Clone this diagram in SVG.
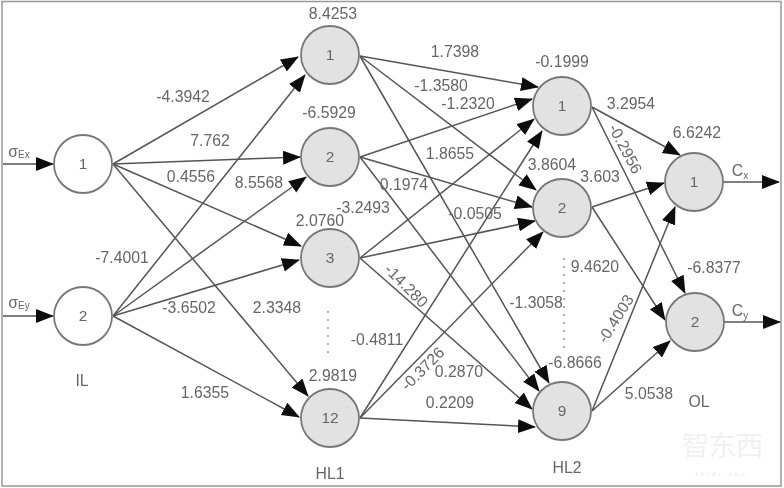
<svg xmlns="http://www.w3.org/2000/svg" width="784" height="488" viewBox="0 0 784 488">
<defs>
<marker id="ah" markerUnits="userSpaceOnUse" markerWidth="20" markerHeight="15" refX="17" refY="7" orient="auto"><path d="M0,0 L18,7 L0,14 Z" fill="#111"/></marker>
<filter id="soft" x="-5%" y="-5%" width="110%" height="110%"><feGaussianBlur stdDeviation="0.5"/></filter>
</defs>
<style>
.c line{stroke:#555;stroke-width:1.5;fill:none;marker-end:url(#ah)}
circle{stroke:#777;stroke-width:1.8}
.w{fill:#fff}
.g{fill:#e2e2e2}
text{font-family:"Liberation Sans",Arial,sans-serif;font-size:15.8px;fill:#666;text-anchor:middle}
.n{font-size:15.5px}
.s{font-size:10px}
.d{stroke:#999;stroke-width:1.6;stroke-dasharray:2 6;fill:none}
</style>
<rect width="784" height="488" fill="#fff"/>
<g filter="url(#soft)">
<rect x="2" y="1.500" width="779" height="484.500" fill="none" stroke="#999" stroke-width="1.500"/>
<g id="connectors" class="c">
<line x1="3" y1="164" x2="53" y2="164"/>
<line x1="3" y1="316" x2="53" y2="316"/>
<line x1="113" y1="164" x2="298" y2="57"/>
<line x1="113" y1="164" x2="300" y2="157"/>
<line x1="113" y1="164" x2="301" y2="246"/>
<line x1="113" y1="164" x2="308" y2="396"/>
<line x1="113" y1="316" x2="305" y2="75"/>
<line x1="113" y1="316" x2="306" y2="177"/>
<line x1="113" y1="316" x2="299" y2="260"/>
<line x1="113" y1="316" x2="299" y2="417"/>
<line x1="360" y1="56" x2="538" y2="87"/>
<line x1="360" y1="56" x2="536" y2="190"/>
<line x1="360" y1="56" x2="549" y2="383"/>
<line x1="360" y1="157" x2="532" y2="99"/>
<line x1="360" y1="157" x2="532" y2="207"/>
<line x1="360" y1="157" x2="539" y2="391"/>
<line x1="360" y1="258" x2="534" y2="119"/>
<line x1="360" y1="258" x2="535" y2="221"/>
<line x1="360" y1="258" x2="532" y2="409"/>
<line x1="360" y1="418" x2="542" y2="131"/>
<line x1="360" y1="418" x2="543" y2="232"/>
<line x1="360" y1="418" x2="535" y2="427"/>
<line x1="592" y1="107" x2="680" y2="155"/>
<line x1="592" y1="107" x2="685" y2="293"/>
<line x1="592" y1="207" x2="664" y2="183"/>
<line x1="592" y1="207" x2="665" y2="320"/>
<line x1="592" y1="411" x2="675" y2="207"/>
<line x1="592" y1="411" x2="670" y2="341"/>
<line x1="723" y1="182" x2="779" y2="182"/>
<line x1="724" y1="322" x2="780" y2="322"/>
</g>
<path class="d" d="M328,311V358"/>
<path class="d" d="M564,258V350"/>
<g id="il1"><circle class="w" cx="83" cy="164" r="29"/><text class="n" x="83" y="169">1</text></g>
<g id="il2"><circle class="w" cx="83" cy="316" r="29"/><text class="n" x="83" y="321">2</text></g>
<g id="hl1-1"><circle class="g" cx="330" cy="55" r="29"/><text class="n" x="330" y="60">1</text></g>
<g id="hl1-2"><circle class="g" cx="330" cy="157" r="29"/><text class="n" x="330" y="162">2</text></g>
<g id="hl1-3"><circle class="g" cx="330" cy="258" r="29"/><text class="n" x="330" y="263">3</text></g>
<g id="hl1-12"><circle class="g" cx="330" cy="418" r="29"/><text class="n" x="330" y="423">12</text></g>
<g id="hl2-1"><circle class="g" cx="562" cy="106" r="29"/><text class="n" x="562" y="111">1</text></g>
<g id="hl2-2"><circle class="g" cx="562" cy="208" r="29"/><text class="n" x="562" y="213">2</text></g>
<g id="hl2-9"><circle class="g" cx="562" cy="411" r="29"/><text class="n" x="562" y="416">9</text></g>
<g id="ol1"><circle class="g" cx="694" cy="182" r="29"/><text class="n" x="694" y="187">1</text></g>
<g id="ol2"><circle class="g" cx="695" cy="322" r="29"/><text class="n" x="695" y="327">2</text></g>
<g id="labels">
<text x="333" y="19">8.4253</text>
<text x="183" y="102">-4.3942</text>
<text x="210" y="146">7.762</text>
<text x="191" y="182">0.4556</text>
<text x="259" y="188">8.5568</text>
<text x="122" y="263">-7.4001</text>
<text x="189" y="313">-3.6502</text>
<text x="277" y="313">2.3348</text>
<text x="205" y="398">1.6355</text>
<text x="329" y="118">-6.5929</text>
<text x="320" y="226">2.0760</text>
<text x="363" y="213">-3.2493</text>
<text x="404" y="190">0.1974</text>
<text x="450" y="159">1.8655</text>
<text x="455" y="57">1.7398</text>
<text x="441" y="91">-1.3580</text>
<text x="468" y="109">-1.2320</text>
<text x="475" y="219">-0.0505</text>
<text transform="translate(406,286) rotate(45)" y="5">-14.280</text>
<text x="377" y="345">-0.4811</text>
<text transform="translate(423,369) rotate(-45)" y="5">-0.3726</text>
<text x="459" y="377">0.2870</text>
<text x="450" y="408">0.2209</text>
<text x="333" y="381">2.9819</text>
<text x="536" y="308">-1.3058</text>
<text x="575" y="368">-6.8666</text>
<text x="562" y="67">-0.1999</text>
<text x="552" y="170">3.8604</text>
<text x="600" y="182">3.603</text>
<text x="631" y="109">3.2954</text>
<text transform="translate(625,149) rotate(62)" y="5">-0.2956</text>
<text x="697" y="138">6.6242</text>
<text x="595" y="272">9.4620</text>
<text x="714" y="273">-6.8377</text>
<text transform="translate(616,319) rotate(-58)" y="5">-0.4003</text>
<text x="649" y="399">5.0538</text>
<text x="82" y="386">IL</text>
<text x="330" y="479">HL1</text>
<text x="567" y="473">HL2</text>
<text x="699" y="407">OL</text>
<text x="740" y="176">C<tspan class="s" dy="3">x</tspan></text>
<text x="740" y="316">C<tspan class="s" dy="3">y</tspan></text>
<text x="19" y="157">σ<tspan class="s" dy="1">Ex</tspan></text>
<text x="19" y="308">σ<tspan class="s" dy="1">Ey</tspan></text>
</g>
<g id="watermark">
<text x="722" y="456" style="font-family:'Noto Sans CJK SC',sans-serif;font-size:28px;fill:#f1f1f1;letter-spacing:-1px">智东西</text>
<text x="722" y="476" style="font-size:6px;fill:#e6e6e6;letter-spacing:3px">zhidx.com</text>
</g>
</g>
</svg>
